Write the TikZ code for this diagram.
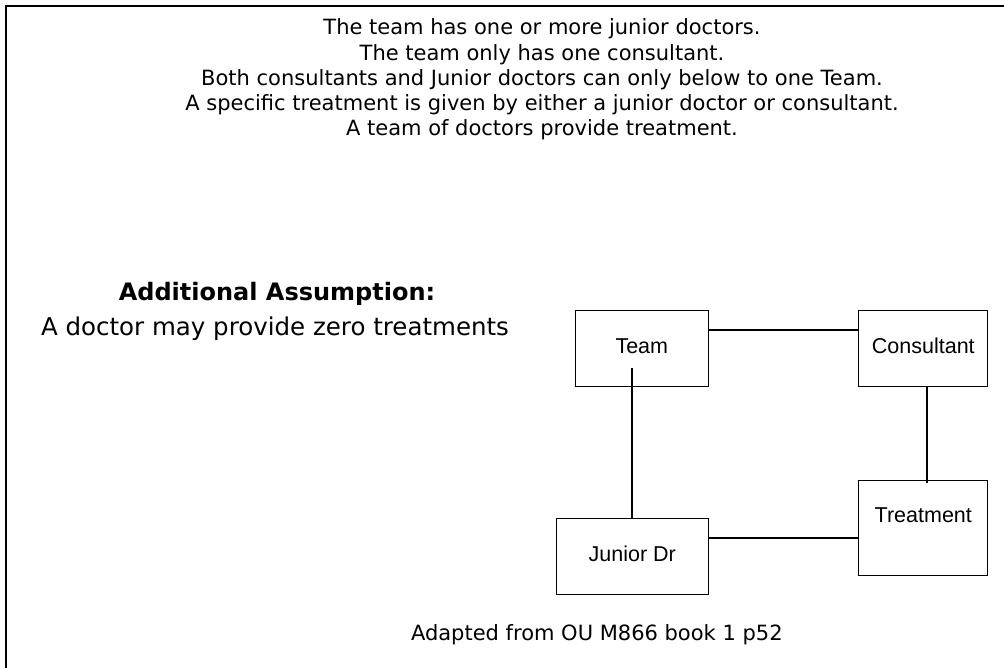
\documentclass[tikz,border=0pt]{standalone}
\usepackage{fontspec}
\setmainfont{DejaVu Sans}
\newfontfamily\boxfont{Liberation Sans}
\begin{document}
\begin{tikzpicture}[x=1pt,y=-1pt,
  note/.style={inner sep=0pt, outer sep=0pt, anchor=base, font=\fontsize{21}{25}\selectfont},
  big/.style={inner sep=0pt, outer sep=0pt, anchor=base, font=\fontsize{24.5}{29}\selectfont},
  bigbold/.style={big, font=\bfseries\fontsize{24}{29}\selectfont},
  entity/.style={draw, line width=1pt, inner sep=0pt, outer sep=0pt},
  elabel/.style={inner sep=0pt, outer sep=0pt, anchor=base, font=\boxfont\fontsize{21.5}{25}\selectfont},
  link/.style={line width=1.8pt}]
\useasboundingbox (0,0) rectangle (1004,668);
% page frame (top and left edges)
\draw[line width=2pt] (1004,6) -- (6,6) -- (6,668);

% requirements
\node[note] (r1) at (542,35)    {The team has one or more junior doctors.};
\node[note] (r2) at (542,60.3)  {The team only has one consultant.};
\node[note] (r3) at (542,85.5)  {Both consultants and Junior doctors can only below to one Team.};
\node[note] (r4) at (542,110.8) {A specific treatment is given by either a junior doctor or consultant.};
\node[note] (r5) at (542,136)   {A team of doctors provide treatment.};

% assumption
\node[bigbold] (ah) at (277,301) {Additional Assumption:};
\node[big] (at) at (275,335) {A doctor may provide zero treatments};

% entities
\node[entity, minimum width=133pt,   minimum height=76pt]   (team)  at (641.8,348.7) {};
\node[entity, minimum width=128.7pt, minimum height=76pt]   (cons)  at (923.3,348.7) {};
\node[entity, minimum width=128.7pt, minimum height=94.7pt] (treat) at (923.3,528.3) {};
\node[entity, minimum width=152pt,   minimum height=75.7pt] (jun)   at (632.3,556.8) {};

\node[elabel] (teamt)  at (641.8,353.3) {Team};
\node[elabel] (const)  at (923.3,353.3) {Consultant};
\node[elabel] (treatt) at (923.3,522.7) {Treatment};
\node[elabel] (junt)   at (632.3,561)   {Junior Dr};

% relationships
\coordinate (tj) at (632.3,367.7);
\coordinate (ct) at (927.3,483.3);
\draw[link] (team.east |- 0,330) -- (cons.west |- 0,330);
\draw[link] (tj) -- (jun.north);
\draw[link] (cons.south -| ct) -- (ct);
\draw[link] (jun.east |- 0,537.7) -- (treat.west |- 0,537.7);

% source
\node[note, anchor=base west] (src) at (411,640) {Adapted from OU M866 book 1 p52};
\end{tikzpicture}
\end{document}
